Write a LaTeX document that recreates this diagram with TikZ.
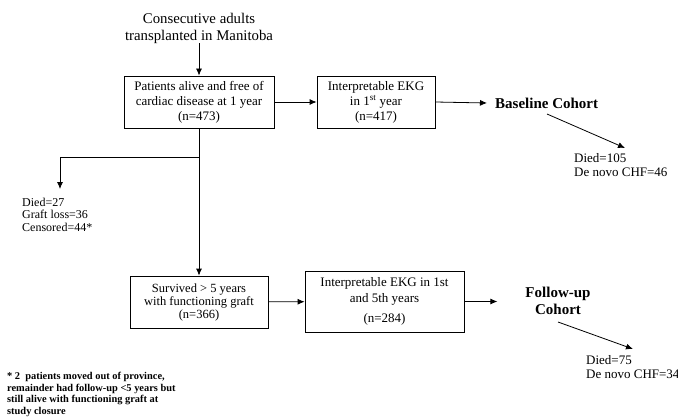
\documentclass[tikz,border=0pt]{standalone}
\usepackage{fontspec}
\setmainfont{Liberation Serif}
\usetikzlibrary{arrows.meta,calc}
\begin{document}
\begin{tikzpicture}[x=1pt,y=-1pt,
  arr/.style={-{Latex[length=7pt,width=6pt]},line width=0.8pt},
  boxn/.style={draw,line width=0.8pt,align=center,inner sep=0pt,font=\fontsize{13}{15}\selectfont},
  lbl/.style={align=left,inner sep=0pt,anchor=north west,font=\fontsize{13}{14}\selectfont},
  cohort/.style={align=center,inner sep=0pt,font=\fontsize{15}{17}\selectfont\bfseries}]
\useasboundingbox (0,0) rectangle (678,420);
\node[align=center,inner sep=0pt,font=\fontsize{14.8}{17}\selectfont] (t) at (199,28) {Consecutive adults\\transplanted in Manitoba};
\node[boxn,minimum width=150pt,minimum height=52pt] (b1) at (199,102) {Patients alive and free of\\cardiac disease at 1 year\\(n=473)};
\node[boxn,minimum width=118pt,minimum height=52pt] (b2) at (376,102) {Interpretable EKG\\in 1\textsuperscript{st} year\\(n=417)};
\node[cohort,anchor=west] (bc) at (495,103) {Baseline Cohort};
\coordinate (bcs) at (547,114);
\coordinate (bce) at (625,148);
\node[lbl] (bcd) at (574,153) {Died=105\\De novo CHF=46};
\coordinate (br) at (199,157);
\coordinate (bre) at (60,189);
\node[lbl,font=\fontsize{12}{12.8}\selectfont] (d27) at (22,197.5) {Died=27\\Graft loss=36\\Censored=44*};
\node[boxn,minimum width=138pt,minimum height=52pt,font=\fontsize{12.5}{13}\selectfont] (b3) at (199,302) {Survived > 5 years\\with functioning graft\\(n=366)};
\node[boxn,minimum width=159pt,minimum height=61pt,font=\fontsize{13}{15.5}\selectfont] (b4) at (384.5,301.5) {Interpretable EKG in 1st\\and 5th years\\[5pt](n=284)};
\node[cohort] (fu) at (558,301) {Follow-up\\Cohort};
\coordinate (fus) at (558,322);
\coordinate (fue) at (633,349);
\node[lbl] (fud) at (586,355) {Died=75\\De novo CHF=34};
\node[align=left,inner sep=0pt,anchor=north west,font=\fontsize{10.4}{11.5}\selectfont\bfseries] (foot) at (7,372) {* 2\ \ patients moved out of province,\\remainder had follow-up <5 years but\\still alive with functioning graft at\\study closure};
\draw[arr] (t) -- (b1);
\draw[arr] (b1) -- (b2);
\draw[arr] (b2.east) -- ($(bc.west)+(-8,0)$);
\draw[arr] (bcs) -- (bce);
\draw[arr] (b1) -- (b3);
\draw[arr] (br) -| (bre);
\draw[arr] (b3) -- (b4);
\draw[arr] (b4.east) -- ($(b4.east)+(33,0)$);
\draw[arr] (fus) -- (fue);
\end{tikzpicture}
\end{document}
